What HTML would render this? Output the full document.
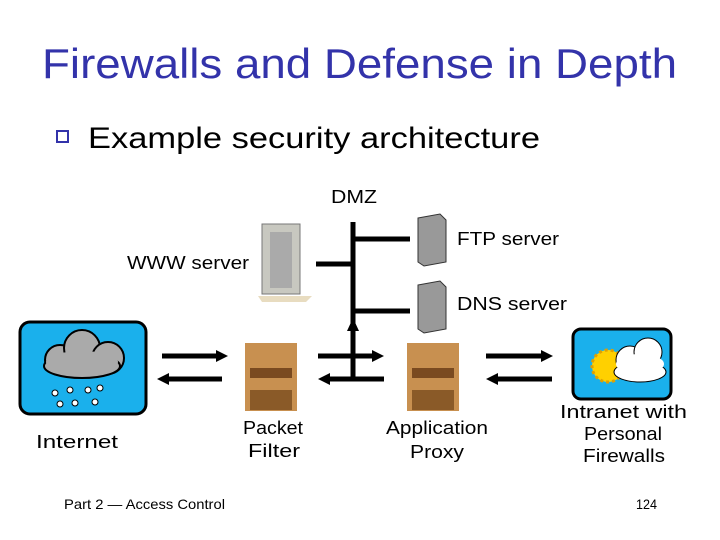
<!DOCTYPE html>
<html><head><meta charset="utf-8"><style>body{margin:0;background:#fff}svg{display:block}</style></head><body>
<svg width="720" height="540" viewBox="0 0 720 540" xmlns="http://www.w3.org/2000/svg" font-family="Liberation Sans, sans-serif">
<rect width="720" height="540" fill="#fff"/>
<text x="42" y="78" font-size="42" fill="#3333aa" textLength="635" lengthAdjust="spacingAndGlyphs">Firewalls and Defense in Depth</text>
<rect x="57" y="131" width="11" height="11" fill="none" stroke="#3333aa" stroke-width="2"/>
<text x="88" y="148" font-size="30" fill="#000" textLength="452" lengthAdjust="spacingAndGlyphs">Example security architecture</text>
<text x="331" y="203" font-size="18" textLength="46" lengthAdjust="spacingAndGlyphs">DMZ</text>
<text x="127" y="269" font-size="18" textLength="122" lengthAdjust="spacingAndGlyphs">WWW server</text>
<text x="457" y="245" font-size="18" textLength="102" lengthAdjust="spacingAndGlyphs">FTP server</text>
<text x="457" y="310" font-size="18" textLength="110" lengthAdjust="spacingAndGlyphs">DNS server</text>
<g stroke="#000" stroke-width="5" fill="none">
<line x1="353" y1="222" x2="353" y2="380"/>
<line x1="353" y1="239" x2="410" y2="239"/>
<line x1="316" y1="264" x2="353" y2="264"/>
<line x1="353" y1="311" x2="410" y2="311"/>
<line x1="318" y1="356" x2="376" y2="356"/>
<line x1="326" y1="379" x2="384" y2="379"/>
<line x1="162" y1="356" x2="220" y2="356"/>
<line x1="165" y1="379" x2="222" y2="379"/>
<line x1="486" y1="356" x2="545" y2="356"/>
<line x1="495" y1="379" x2="552" y2="379"/>
</g>
<g fill="#000">
<polygon points="353,318 347,331 359,331"/>
<polygon points="384,356 372,350 372,362"/>
<polygon points="318,379 330,373 330,385"/>
<polygon points="228,356 216,350 216,362"/>
<polygon points="157,379 169,373 169,385"/>
<polygon points="553,356 541,350 541,362"/>
<polygon points="486,379 498,373 498,385"/>
</g>
<!-- WWW server -->
<rect x="262" y="224" width="38" height="70" fill="#c8c8c0" stroke="#777"/>
<rect x="270" y="232" width="22" height="56" fill="#aaa"/>
<polygon points="258,296 312,296 306,302 262,302" fill="#e8dcc0"/>
<!-- FTP / DNS servers -->
<g fill="#999" stroke="#333">
<polygon points="418,218 440,214 446,220 446,262 424,266 418,262"/>
<polygon points="418,285 440,281 446,287 446,329 424,333 418,329"/>
</g>
<!-- Internet -->
<rect x="20" y="322" width="126" height="92" rx="10" fill="#1ab0ec" stroke="#000" stroke-width="3"/>
<g fill="#aaa" stroke="#000" stroke-width="2">
<circle cx="60" cy="360" r="15"/><circle cx="82" cy="348" r="18"/><circle cx="108" cy="358" r="16"/><ellipse cx="82" cy="366" rx="38" ry="12"/>
</g>
<g fill="#aaa"><ellipse cx="82" cy="362" rx="36" ry="11"/></g>
<g fill="#fff" stroke="#000"><circle cx="55" cy="393" r="3"/><circle cx="70" cy="390" r="3"/><circle cx="88" cy="390" r="3"/><circle cx="100" cy="388" r="3"/><circle cx="60" cy="404" r="3"/><circle cx="75" cy="403" r="3"/><circle cx="95" cy="402" r="3"/></g>
<text x="36" y="448" font-size="18" textLength="82" lengthAdjust="spacingAndGlyphs">Internet</text>
<!-- Firewalls -->
<rect x="245" y="343" width="52" height="68" fill="#c89050"/>
<rect x="250" y="368" width="42" height="10" fill="#7a4a20"/>
<rect x="250" y="390" width="42" height="20" fill="#8a5a28"/>
<rect x="407" y="343" width="52" height="68" fill="#c89050"/>
<rect x="412" y="368" width="42" height="10" fill="#7a4a20"/>
<rect x="412" y="390" width="42" height="20" fill="#8a5a28"/>
<text x="243" y="434" font-size="18" textLength="60" lengthAdjust="spacingAndGlyphs">Packet</text>
<text x="248" y="457" font-size="18" textLength="52" lengthAdjust="spacingAndGlyphs">Filter</text>
<text x="386" y="434" font-size="18" textLength="102" lengthAdjust="spacingAndGlyphs">Application</text>
<text x="410" y="458" font-size="18" textLength="54" lengthAdjust="spacingAndGlyphs">Proxy</text>
<!-- Intranet -->
<rect x="573" y="329" width="98" height="70" rx="8" fill="#1ab0ec" stroke="#000" stroke-width="3"/>
<circle cx="608" cy="366" r="16" fill="#ffd000" stroke="#e0a000" stroke-width="3" stroke-dasharray="3 3"/>
<g fill="#fff" stroke="#000"><circle cx="630" cy="360" r="14"/><circle cx="648" cy="352" r="14"/><ellipse cx="640" cy="372" rx="26" ry="10"/></g>
<ellipse cx="640" cy="364" rx="24" ry="10" fill="#fff"/>
<text x="560" y="418" font-size="18" textLength="127" lengthAdjust="spacingAndGlyphs">Intranet with</text>
<text x="584" y="440" font-size="18" textLength="78" lengthAdjust="spacingAndGlyphs">Personal</text>
<text x="583" y="462" font-size="18" textLength="82" lengthAdjust="spacingAndGlyphs">Firewalls</text>
<text x="64" y="509" font-size="14" textLength="161" lengthAdjust="spacingAndGlyphs">Part 2 — Access Control</text>
<text x="636" y="509" font-size="14" textLength="21" lengthAdjust="spacingAndGlyphs">124</text>
</svg>
</body></html>
